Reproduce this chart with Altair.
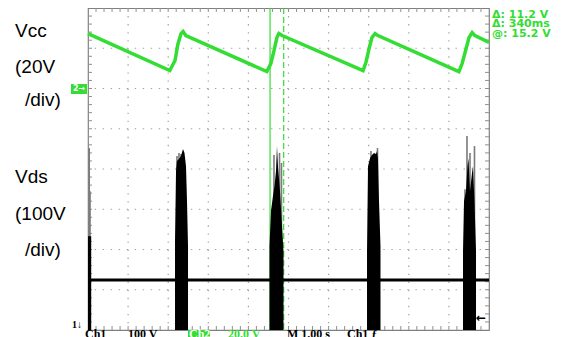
import altair as alt
import pandas as pd

W, H = 401, 322

# ---------------- data (read from the scope screen) ----------------
# time in seconds (M 1.00 s/div, 10 div); Vcc in volts (20 V/div, ground 2 div below top)
vcc_t = [0.00, 2.04, 2.17, 2.24, 2.32, 2.37, 2.44, 4.46, 4.56, 4.64, 4.71, 4.76, 4.84,
         6.86, 6.93, 7.01, 7.08, 7.16, 7.23, 9.25, 9.33, 9.43, 9.50, 9.58, 9.65, 10.00]
vcc_v = [27.3, 8.9, 13.9, 21.9, 27.3, 28.3, 26.3, 8.4, 12.4, 18.9, 25.3, 27.3, 26.3,
         8.9, 12.9, 19.9, 25.3, 27.3, 26.3, 8.4, 12.4, 19.9, 25.3, 27.8, 26.3, 22.9]

# Vds (100 V/div), measured from the bottom of the screen
vds_base_t = [0.0, 10.0]
vds_base_v = [124, 124]

burst_id = [1] * 2 + [2] * 10 + [3] * 10 + [4] * 10 + [5] * 10
burst_t = [0.00, 0.08,
           2.170, 2.195, 2.219, 2.269, 2.319, 2.369, 2.406, 2.444, 2.469, 2.494,
           4.526, 4.564, 4.613, 4.651, 4.688, 4.713, 4.738, 4.788, 4.838, 4.875,
           6.958, 6.983, 7.032, 7.082, 7.132, 7.182, 7.207, 7.232, 7.257, 7.294,
           9.352, 9.377, 9.426, 9.464, 9.489, 9.526, 9.576, 9.601, 9.638, 9.676]
burst_v = [233, 233,
           221, 395, 420, 425, 432, 450, 440, 407, 320, 209,
           209, 296, 333, 358, 395, 457, 407, 345, 258, 196,
           196, 407, 427, 435, 440, 437, 445, 425, 320, 209,
           196, 320, 345, 407, 427, 345, 390, 407, 320, 196]

spike_t = [0.03, 0.05, 2.219, 2.269, 2.319, 4.638, 4.776, 4.825,
           7.057, 7.219, 9.401, 9.451, 9.526, 9.638]
spike_v = [452, 345, 432, 440, 437, 435, 440, 415,
           445, 452, 350, 482, 440, 457]

cursor_t = [4.54, 4.88]

readouts = ["\u0394: 11.2 V", "\u0394: 340ms", "@: 15.2 V"]

# screen graticule (divisions)
grid_x = [1, 2, 3, 4, 5, 6, 7, 8, 9]
grid_y = [1, 2, 3, 4, 5, 6, 7]
minor_x = [i * 0.2 for i in range(1, 50)]
minor_y = [i * 0.2 for i in range(1, 40)]

# ---------------- frames ----------------
vcc_df = pd.DataFrame({"t": vcc_t, "vcc": vcc_v})
base_df = pd.DataFrame({"t": vds_base_t, "vds": vds_base_v})
burst_df = pd.DataFrame({"burst": burst_id, "t": burst_t, "vds": burst_v})
spike_df = pd.DataFrame({"t": spike_t, "vds": spike_v})
cur_df = pd.DataFrame({"t": cursor_t, "kind": ["solid", "dashed"]})
gx_df = pd.DataFrame({"t": grid_x})
gy_df = pd.DataFrame({"d": grid_y})
mx_df = pd.DataFrame({"t": minor_x})
my_df = pd.DataFrame({"d": minor_y})
one = pd.DataFrame({"a": [0]})

GREEN = "#33dd33"
GRID = "#a0a0a0"

xs = alt.Scale(domain=[0, 10], nice=False, zero=False)
ydiv = alt.Scale(domain=[0, 8], nice=False, zero=False)
yvcc = alt.Scale(domain=[-120, 40], nice=False, zero=False)
yvds = alt.Scale(domain=[0, 800], nice=False, zero=False)

X = alt.X("t:Q", scale=xs, axis=None)

grid_v = alt.Chart(gx_df).mark_rule(color=GRID, strokeWidth=1.2, strokeDash=[1.4, 6.65]).encode(x=X)
grid_h = alt.Chart(gy_df).mark_rule(color=GRID, strokeWidth=1.2, strokeDash=[1.4, 6.62]).encode(
    y=alt.Y("d:Q", scale=ydiv, axis=None))

tick_top = alt.Chart(mx_df).mark_rule(color="#909090").encode(x=X, y=alt.value(0), y2=alt.value(4))
tick_bot = alt.Chart(mx_df).mark_rule(color="#909090").encode(x=X, y=alt.value(H - 4), y2=alt.value(H))
tick_left = alt.Chart(my_df).mark_rule(color="#909090").encode(
    y=alt.Y("d:Q", scale=ydiv, axis=None), x=alt.value(0), x2=alt.value(4))
tick_right = alt.Chart(my_df).mark_rule(color="#909090").encode(
    y=alt.Y("d:Q", scale=ydiv, axis=None), x=alt.value(W - 4), x2=alt.value(W))

cur_solid = alt.Chart(cur_df).transform_filter(alt.datum.kind == "solid").mark_rule(
    color=GREEN, strokeWidth=1.2).encode(x=X)
cur_dash = alt.Chart(cur_df).transform_filter(alt.datum.kind == "dashed").mark_rule(
    color=GREEN, strokeWidth=1.2, strokeDash=[6, 3]).encode(x=X)

spikes = alt.Chart(spike_df).mark_rule(color="#7a7a7a", strokeWidth=1.6).encode(
    x=X, y=alt.Y("vds:Q", scale=yvds, axis=None), y2=alt.datum(0))
bursts = alt.Chart(burst_df).mark_area(color="#000000", interpolate="linear").encode(
    x=X, y=alt.Y("vds:Q", scale=yvds, axis=None, stack=None), detail="burst:N")
base = alt.Chart(base_df).mark_line(color="#000000", strokeWidth=3).encode(
    x=X, y=alt.Y("vds:Q", scale=yvds, axis=None))
vcc = alt.Chart(vcc_df).mark_line(color=GREEN, strokeWidth=3.5, interpolate="linear").encode(
    x=X, y=alt.Y("vcc:Q", scale=yvcc, axis=None))


def label(txt, x, y, size=19, color="#000000", font="Liberation Sans", weight="normal",
          align="left", baseline="middle"):
    return alt.Chart(one).mark_text(text=txt, fontSize=size, color=color, font=font,
                                    fontWeight=weight, align=align, baseline=baseline,
                                    clip=False).encode(x=alt.value(x), y=alt.value(y))


def box(x1, x2, y1, y2, color=GREEN):
    return alt.Chart(one).mark_rect(color=color, clip=False).encode(
        x=alt.value(x1), x2=alt.value(x2), y=alt.value(y1), y2=alt.value(y2))


texts = [
    label("Vcc", -73, 23), label("(20V", -73, 59), label("/div)", -63, 92),
    label("Vds", -73, 169), label("(100V", -73, 206), label("/div)", -63, 242),
]
for i, r in enumerate(readouts):
    texts.append(label(r, 404, 6.5 + 9.5 * i, size=11, color=GREEN, font="DejaVu Sans",
                       weight="bold"))

marks = [
    box(-17, -1, 76, 86),
    label("2\u2192", -15, 81, size=8, color="#ffffff", font="DejaVu Sans", weight="bold"),
    label("1\u2193", -16, 320, size=10, font="Liberation Serif", weight="bold", baseline="alphabetic"),
    label("\u2190", 398, 310, size=12, font="DejaVu Sans", weight="bold", align="right"),
    label("Ch1", -3, 330, size=12, font="Liberation Serif", weight="bold", baseline="alphabetic"),
    label("100 V", 40, 330, size=12, font="Liberation Serif", weight="bold", baseline="alphabetic"),
    box(100, 122, 322, 335),
    label("Ch2", 101, 330, size=12, font="Liberation Serif", weight="bold", color="#ffffff",
          baseline="alphabetic"),
    label("20.0 V", 140, 330, size=12, font="Liberation Serif", weight="bold", color=GREEN,
          baseline="alphabetic"),
    label("M  1.00 s", 199, 330, size=12, font="Liberation Serif", weight="bold", baseline="alphabetic"),
    label("Ch1  \u0192", 259, 330, size=12, font="Liberation Serif", weight="bold", baseline="alphabetic"),
]

chart = alt.layer(
    grid_v, grid_h, tick_top, tick_bot, tick_left, tick_right,
    cur_solid, cur_dash, spikes, bursts, base, vcc,
    *texts, *marks
).resolve_scale(y="independent").properties(
    width=W, height=H,
    autosize=alt.AutoSizeParams(type="none"),
    padding={"left": 80, "top": 0, "right": 65, "bottom": 7},
    background="#ffffff",
).configure_view(stroke="#808080", strokeWidth=1.2)

chart.save("out.html", embed_options={"renderer": "svg", "actions": False})
